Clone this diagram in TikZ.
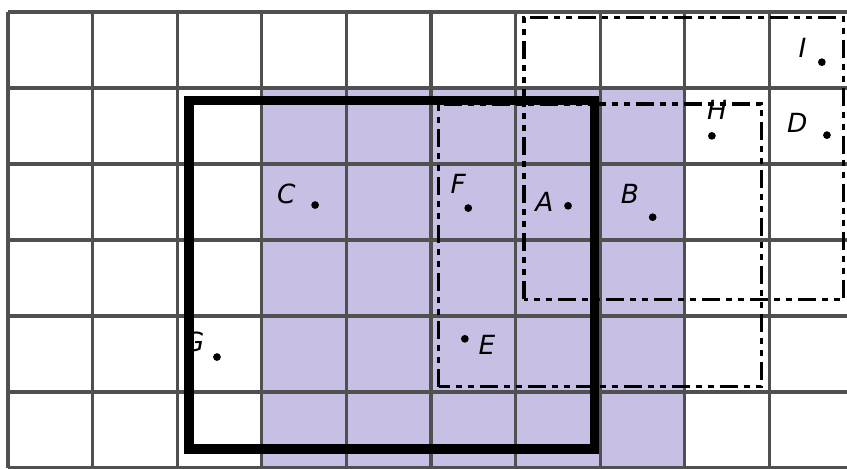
\documentclass[tikz,border=0pt]{standalone}
\usepackage{fontspec}
\setsansfont{DejaVu Sans}
\definecolor{shadefill}{RGB}{199,192,228}
\definecolor{gridgray}{RGB}{80,80,80}

\begin{document}
\begin{tikzpicture}[x=0.846cm, y=0.76cm,
    gridline/.style={line width=0.9pt, gridgray},
    dashdot/.style={line width=0.9pt, dash pattern=on 0.18cm off 0.06cm on 0.06cm off 0.06cm on 0.06cm off 0.06cm},
    bigframe/.style={line width=2.6pt},
    pt/.style={circle, fill=black, inner sep=0pt, minimum size=2.2pt},
    lbl/.style={inner sep=0pt, font=\sffamily\itshape\fontsize{7.5}{9}\selectfont}]

\useasboundingbox (-0.0946,0) rectangle (9.917,6.158);
\clip (-0.0946,0) rectangle (9.917,6.158);

% shaded cells
\fill[shadefill] (3,0) rectangle (8,5);

% squared paper
\foreach \x in {0,1,...,10}
    \draw[gridline] (\x,0) -- (\x,6);
\foreach \y in {0,1,...,6}
    \draw[gridline] (0,\y) -- (10,\y);

% points
\node[pt] (I) at (9.62,5.34) {};
\node[pt] (D) at (9.68,4.38) {};
\node[pt] (H) at (8.32,4.37) {};
\node[pt] (C) at (3.63,3.46) {};
\node[pt] (F) at (5.44,3.42) {};
\node[pt] (A) at (6.62,3.45) {};
\node[pt] (B) at (7.62,3.30) {};
\node[pt] (G) at (2.47,1.46) {};
\node[pt] (E) at (5.40,1.70) {};

% letters
\node[lbl] (Ilbl) at (9.39,5.53) {I};
\node[lbl] (Dlbl) at (9.33,4.54) {D};
\node[lbl] (Hlbl) at (8.38,4.71) {H};
\node[lbl] (Clbl) at (3.29,3.61) {C};
\node[lbl] (Flbl) at (5.32,3.74) {F};
\node[lbl] (Albl) at (6.34,3.50) {A};
\node[lbl] (Blbl) at (7.35,3.61) {B};
\node[lbl] (Glbl) at (2.20,1.66) {G};
\node[lbl] (Elbl) at (5.66,1.62) {E};

% dash-dot boxes
\draw[dashdot] (6.10,2.22) rectangle (9.88,5.93);
\draw[dashdot] (5.09,1.07) rectangle (8.91,4.79);

% thick frame
\draw[bigframe] (2.14,0.25) rectangle (6.93,4.83);

\end{tikzpicture}
\end{document}
